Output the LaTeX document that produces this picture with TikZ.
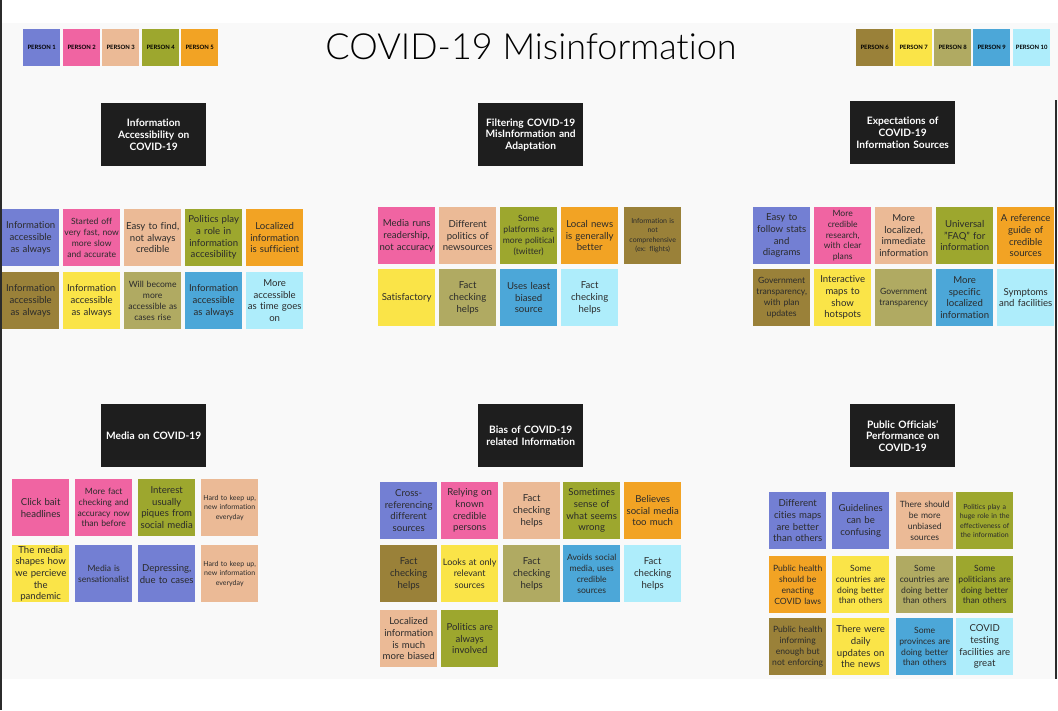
\documentclass[tikz,border=0pt]{standalone}
\usepackage{fontspec}
\setmainfont{Lato}[Ligatures=NoCommon]
\newfontfamily\titlefont{Lato Light}[Ligatures=NoCommon]
\definecolor{pA}{HTML}{737FD3}
\definecolor{pB}{HTML}{F064A2}
\definecolor{pC}{HTML}{EBBA96}
\definecolor{pD}{HTML}{9DA72E}
\definecolor{pE}{HTML}{F2A324}
\definecolor{pF}{HTML}{9A8139}
\definecolor{pG}{HTML}{FAE448}
\definecolor{pH}{HTML}{B0AA62}
\definecolor{pI}{HTML}{4CA7D8}
\definecolor{pJ}{HTML}{AEEDFB}
\definecolor{bg}{HTML}{F9F9F9}
\definecolor{hdr}{HTML}{1E1E1E}
\definecolor{ink}{HTML}{2B2B2B}
\tikzset{
  note/.style={anchor=north west, minimum width=57pt, minimum height=57pt, text width=56.5pt, inner sep=0.25pt, align=center, text=ink, font=\fontsize{9.6}{11.7}\selectfont},
  mid/.style={font=\fontsize{8.6}{10.8}\selectfont},
  tiny/.style={font=\fontsize{7}{9.5}\selectfont},
  header/.style={anchor=north west, fill=hdr, minimum width=105pt, minimum height=63pt, text width=103pt, inner sep=1pt, align=center, text=white, font=\bfseries\fontsize{10.2}{11.6}\selectfont},
  legend/.style={anchor=north west, minimum width=37pt, minimum height=37pt, inner sep=0pt, text=black, font=\bfseries\fontsize{5.9}{6.5}\selectfont}
}
\begin{document}
\begin{tikzpicture}[x=1pt,y=-1pt]
\useasboundingbox (0,0) rectangle (1058,710);
\fill[white] (0,0) rectangle (1058,710);
\fill[bg] (0,23) rectangle (1058,679);
\fill[ink] (0,0) rectangle (2,710);
\fill[ink] (1055,100) rectangle (1057,679);
% title
\node[font=\titlefont\fontsize{36}{38}\selectfont, text=black] (title) at (531,47) {COVID-19 Misinformation};
% legend
\node[legend, fill=pA] (l1) at (23,29) {PERSON 1};
\node[legend, fill=pB] (l2) at (63,29) {PERSON 2};
\node[legend, fill=pC] (l3) at (102,29) {PERSON 3};
\node[legend, fill=pD] (l4) at (142,29) {PERSON 4};
\node[legend, fill=pE] (l5) at (181,29) {PERSON 5};
\node[legend, fill=pF] (l6) at (856,29) {PERSON 6};
\node[legend, fill=pG] (l7) at (895,29) {PERSON 7};
\node[legend, fill=pH] (l8) at (934,29) {PERSON 8};
\node[legend, fill=pI] (l9) at (973,29) {PERSON 9};
\node[legend, fill=pJ] (l10) at (1013,29) {PERSON 10};
% headers
\node[header] (h1) at (101,103) {Information\\Accessibility on\\COVID-19};
\node[header] (h2) at (478,103) {Filtering COVID-19\\MisInformation and\\Adaptation};
\node[header] (h3) at (850,101) {Expectations of\\COVID-19\\Information Sources};
\node[header] (h4) at (101,404) {Media on COVID-19};
\node[header] (h5) at (478,404) {Bias of COVID-19\\related Information};
\node[header] (h6) at (850,404) {Public Officials'\\Performance on\\COVID-19};
% section 1
\node[note, fill=pA] (a1) at (2,209) {Information\\accessible\\as always};
\node[note, fill=pB, mid] (a2) at (63,209) {Started off\\very fast, now\\more slow\\and accurate};
\node[note, fill=pC] (a3) at (124,209) {Easy to find,\\not always\\credible};
\node[note, fill=pD] (a4) at (185,209) {Politics play\\a role in\\information\\accesibility};
\node[note, fill=pE] (a5) at (246,209) {Localized\\information\\is sufficient};
\node[note, fill=pF] (a6) at (2,272) {Information\\accessible\\as always};
\node[note, fill=pG] (a7) at (63,272) {Information\\accessible\\as always};
\node[note, fill=pH, mid] (a8) at (124,272) {Will become\\more\\accessible as\\cases rise};
\node[note, fill=pI] (a9) at (185,272) {Information\\accessible\\as always};
\node[note, fill=pJ] (a10) at (246,272) {More\\accessible\\as time goes\\on};
% section 2
\node[note, fill=pB] (b1) at (378,207) {Media runs\\readership,\\not accuracy};
\node[note, fill=pC] (b2) at (439,207) {Different\\politics of\\newsources};
\node[note, fill=pD, mid] (b3) at (500,207) {Some\\platforms are\\more political\\(twitter)};
\node[note, fill=pE] (b4) at (561,207) {Local news\\is generally\\better};
\node[note, fill=pF, tiny] (b5) at (624,207) {Information is\\not\\comprehensive\\(ex: flights)};
\node[note, fill=pG] (b6) at (378,269) {Satisfactory};
\node[note, fill=pH] (b7) at (439,269) {Fact\\checking\\helps};
\node[note, fill=pI] (b8) at (500,269) {Uses least\\biased\\source};
\node[note, fill=pJ] (b9) at (561,269) {Fact\\checking\\helps};
% section 3
\node[note, fill=pA] (c1) at (753,207) {Easy to\\follow stats\\and\\diagrams};
\node[note, fill=pB, mid] (c2) at (814,207) {More\\credible\\research,\\with clear\\plans};
\node[note, fill=pC] (c3) at (875,207) {More\\localized,\\immediate\\information};
\node[note, fill=pD] (c4) at (936,207) {Universal\\"FAQ" for\\information};
\node[note, fill=pE] (c5) at (997,207) {A reference\\guide of\\credible\\sources};
\node[note, fill=pF, mid] (c6) at (753,269) {Government\\transparency,\\with plan\\updates};
\node[note, fill=pG] (c7) at (814,269) {Interactive\\maps to\\show\\hotspots};
\node[note, fill=pH, mid] (c8) at (875,269) {Government\\transparency};
\node[note, fill=pI] (c9) at (936,269) {More\\specific\\localized\\information};
\node[note, fill=pJ] (c10) at (997,269) {Symptoms\\and facilities};
% section 4
\node[note, fill=pB] (d1) at (12,479) {Click bait\\headlines};
\node[note, fill=pB, mid] (d2) at (75,479) {More fact\\checking and\\accuracy now\\than before};
\node[note, fill=pD] (d3) at (138,479) {Interest\\usually\\piques from\\social media};
\node[note, fill=pC, tiny] (d4) at (201,479) {Hard to keep up,\\new information\\everyday};
\node[note, fill=pG] (d5) at (12,545) {The media\\shapes how\\we percieve\\the\\pandemic};
\node[note, fill=pA, mid] (d6) at (75,545) {Media is\\sensationalist};
\node[note, fill=pA] (d7) at (138,545) {Depressing,\\due to cases};
\node[note, fill=pC, tiny] (d8) at (201,545) {Hard to keep up,\\new information\\everyday};
% section 5
\node[note, fill=pA] (e1) at (380,482) {Cross-\\referencing\\different\\sources};
\node[note, fill=pB] (e2) at (441,482) {Relying on\\known\\credible\\persons};
\node[note, fill=pC] (e3) at (503,482) {Fact\\checking\\helps};
\node[note, fill=pD] (e4) at (563,482) {Sometimes\\sense of\\what seems\\wrong};
\node[note, fill=pE] (e5) at (624,482) {Believes\\social media\\too much};
\node[note, fill=pF] (e6) at (380,545) {Fact\\checking\\helps};
\node[note, fill=pG, font=\fontsize{9}{11.7}\selectfont] (e7) at (441,545) {Looks at only\\relevant\\sources};
\node[note, fill=pH] (e8) at (503,545) {Fact\\checking\\helps};
\node[note, fill=pI, mid] (e9) at (563,545) {Avoids social\\media, uses\\credible\\sources};
\node[note, fill=pJ] (e10) at (624,545) {Fact\\checking\\helps};
\node[note, fill=pC] (e11) at (380,610) {Localized\\information\\is much\\more biased};
\node[note, fill=pD] (e12) at (441,610) {Politics are\\always\\involved};
% section 6
\node[note, fill=pA] (f1) at (769,492) {Different\\cities maps\\are better\\than others};
\node[note, fill=pA] (f2) at (832,492) {Guidelines\\can be\\confusing};
\node[note, fill=pC, mid] (f3) at (896,492) {There should\\be more\\unbiased\\sources};
\node[note, fill=pD, tiny] (f4) at (956,492) {Politics play a\\huge role in the\\effectiveness of\\the information};
\node[note, fill=pE, mid] (f5) at (769,556) {Public health\\should be\\enacting\\COVID laws};
\node[note, fill=pG, mid] (f6) at (832,556) {Some\\countries are\\doing better\\than others};
\node[note, fill=pH, mid] (f7) at (896,556) {Some\\countries are\\doing better\\than others};
\node[note, fill=pD, mid] (f8) at (956,556) {Some\\politicians are\\doing better\\than others};
\node[note, fill=pF, mid] (f9) at (769,618) {Public health\\informing\\enough but\\not enforcing};
\node[note, fill=pG] (f10) at (832,618) {There were\\daily\\updates on\\the news};
\node[note, fill=pI, mid] (f11) at (896,618) {Some\\provinces are\\doing better\\than others};
\node[note, fill=pJ] (f12) at (956,618) {COVID\\testing\\facilities are\\great};
\end{tikzpicture}
\end{document}
